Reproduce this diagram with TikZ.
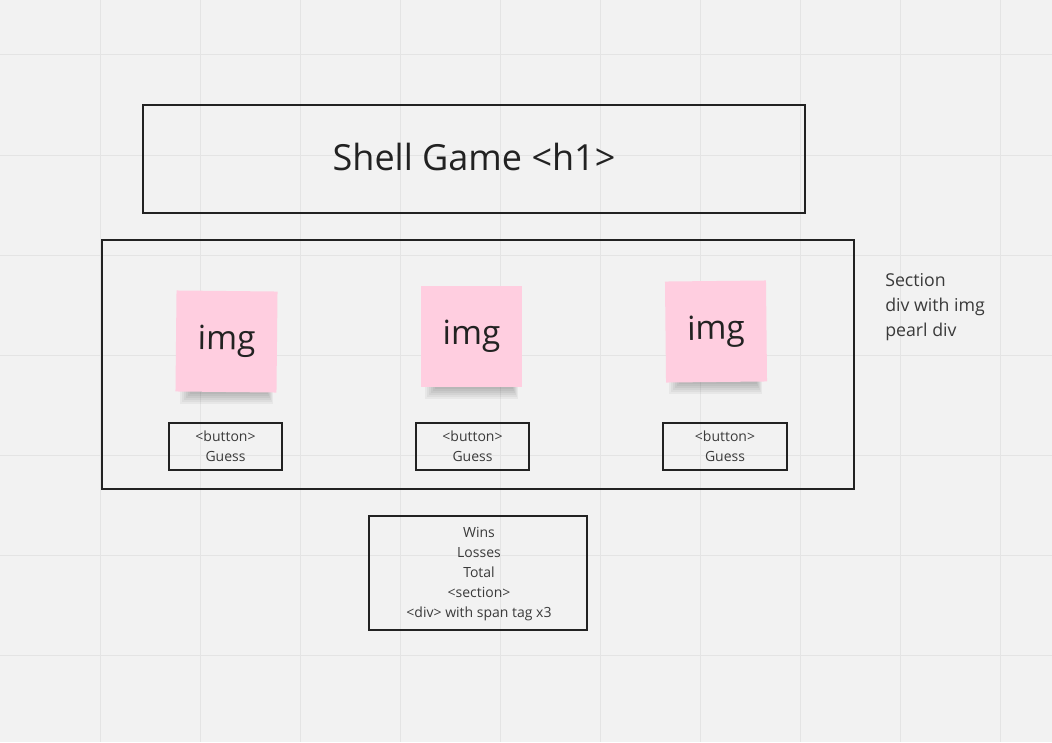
\documentclass[tikz,border=0pt]{standalone}
\usepackage{fontspec}
\setmainfont{Open Sans}
\definecolor{bg}{HTML}{F2F2F2}
\definecolor{gridc}{HTML}{E4E4E4}
\definecolor{pinkn}{HTML}{FFCEE0}
\definecolor{txt}{HTML}{222222}
\definecolor{txtsoft}{HTML}{3A3A3A}
\begin{document}
\begin{tikzpicture}[x=0.75pt,y=-0.75pt,
  frame/.style={draw=txt,line width=1.5pt,rectangle,inner sep=0pt},
  note/.style={fill=pinkn,rectangle,minimum width=101*0.75pt,minimum height=101*0.75pt,inner sep=0pt,text=txt,font=\fontsize{25}{30}\selectfont},
  small/.style={text=txtsoft,font=\fontsize{10.5}{15}\selectfont,align=center},
  side/.style={text=txtsoft,font=\fontsize{13.3}{18.75}\selectfont,align=left,anchor=north west,inner sep=0pt}]
\fill[bg] (0,0) rectangle (1052,742);
\useasboundingbox (0,0) rectangle (1052,742);
\foreach \gx in {100,200,...,1000} \draw[gridc,line width=0.75pt] (\gx,0) -- (\gx,742);
\foreach \gy in {55,155,...,655} \draw[gridc,line width=0.75pt] (0,\gy) -- (1052,\gy);
% title
\node[frame,minimum width=662*0.75pt,minimum height=108*0.75pt] (title) at (474,159) {};
\node[text=txt,font=\fontsize{27}{32}\selectfont] (titletext) at (474,157) {Shell Game <h1>};
% section
\node[frame,minimum width=752*0.75pt,minimum height=249*0.75pt] (section) at (478,364.5) {};
% shadows
\foreach \cx/\by in {226.5/392,471.5/387,716/382}{
  \foreach \k in {0,1,2,3,4,5}{
    \fill[black,opacity=0.045] (\cx-47+2*\k,\by-1) rectangle (\cx+46-\k,\by+12-2*\k);
  }
}
% notes
\node[note,rotate=-0.6] (img1) at (226.5,341.5) {img};
\node[note] (img2) at (471.5,336.5) {img};
\node[note,rotate=0.6] (img3) at (716,331.5) {img};
% buttons
\node[frame,minimum width=113*0.75pt,minimum height=47*0.75pt] (btn1) at (225.5,446.5) {};
\node[frame,minimum width=113*0.75pt,minimum height=47*0.75pt] (btn2) at (472.5,446.5) {};
\node[frame,minimum width=124*0.75pt,minimum height=47*0.75pt] (btn3) at (725,446.5) {};
\node[small] (btn1t) at (btn1) {<button>\\Guess};
\node[small] (btn2t) at (btn2) {<button>\\Guess};
\node[small] (btn3t) at (btn3) {<button>\\Guess};
% stats
\node[frame,minimum width=218*0.75pt,minimum height=114*0.75pt] (stats) at (478,573) {};
\node[small] (statst) at (479,574) {Wins\\Losses\\Total\\<section>\\<div> with span tag x3};
% side text
\node[side] (sidet) at (885,273) {Section\\div with img\\pearl div};
\end{tikzpicture}
\end{document}
